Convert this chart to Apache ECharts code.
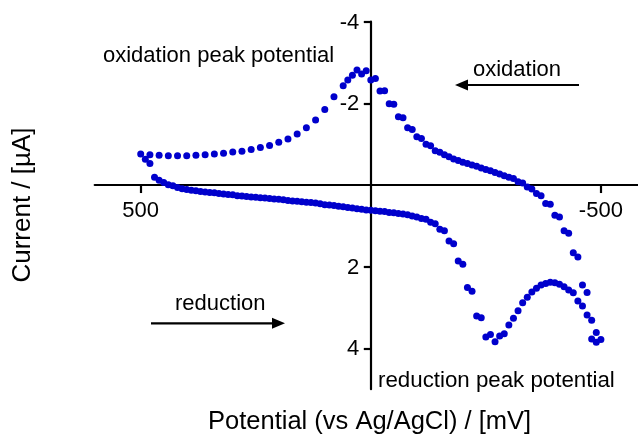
<!DOCTYPE html>
<html>
<head>
<meta charset="utf-8">
<script src="https://cdn.jsdelivr.net/npm/echarts@6/dist/echarts.min.js"></script>
<style>
html,body{margin:0;padding:0;background:#fff;}
#chart{width:638px;height:439px;}
</style>
</head>
<body>
<div id="chart"></div>
<script>
// Reduction sweep (500 mV -> -500 mV)
var reductionPotential = [490,480,470,460,450,440,430,420,410,400,390,380,370,360,350,340,330,320,310,300,290,280,270,260,250,240,230,220,210,200,190,180,170,160,150,140,130,120,110,100,90,80,70,60,50,40,30,20,10,0,-10,-20,-30,-40,-50,-60,-70,-80,-90,-100,-110,-120,-130,-140,-150,-160,-170,-180,-190,-200,-210,-220,-230,-240,-250,-260,-270,-280,-290,-300,-310,-320,-330,-340,-350,-360,-370,-380,-390,-400,-410,-420,-430,-440,-450,-460,-470,-480,-490,-500];
var reductionCurrent = [-0.63,-0.53,-0.19,-0.12,-0.06,-0.01,0.02,0.06,0.09,0.11,0.13,0.14,0.16,0.17,0.18,0.19,0.21,0.22,0.23,0.24,0.26,0.27,0.28,0.29,0.30,0.31,0.32,0.33,0.34,0.35,0.36,0.38,0.39,0.40,0.41,0.42,0.43,0.44,0.46,0.48,0.49,0.50,0.52,0.53,0.55,0.56,0.58,0.59,0.61,0.62,0.63,0.64,0.65,0.67,0.68,0.70,0.71,0.73,0.76,0.78,0.82,0.84,0.91,0.95,1.08,1.12,1.37,1.44,1.86,1.94,2.51,2.60,3.21,3.25,3.72,3.66,3.84,3.70,3.64,3.43,3.26,3.08,2.88,2.75,2.62,2.53,2.45,2.41,2.38,2.39,2.43,2.49,2.57,2.64,2.84,2.96,3.18,3.31,3.61,3.78];

// Oxidation sweep (-500 mV -> 500 mV)
var oxidationPotential = [-490,-480,-470,-460,-450,-440,-430,-420,-410,-400,-390,-380,-370,-360,-350,-340,-330,-320,-310,-300,-290,-280,-270,-260,-250,-240,-230,-220,-210,-200,-190,-180,-170,-160,-150,-140,-130,-120,-110,-100,-90,-80,-70,-60,-50,-40,-30,-20,-10,0,10,20,30,40,50,60,80,100,120,140,160,180,200,220,240,260,280,300,320,340,360,380,400,420,440,460,480,500];
var oxidationCurrent = [3.85,3.77,2.63,2.45,1.76,1.66,1.18,1.12,0.78,0.74,0.47,0.45,0.26,0.21,0.10,0.05,-0.05,-0.08,-0.16,-0.19,-0.23,-0.27,-0.31,-0.35,-0.38,-0.42,-0.46,-0.49,-0.53,-0.56,-0.60,-0.64,-0.69,-0.74,-0.80,-0.84,-0.96,-1.00,-1.14,-1.18,-1.36,-1.40,-1.65,-1.67,-1.98,-1.99,-2.31,-2.30,-2.61,-2.57,-2.80,-2.72,-2.82,-2.69,-2.57,-2.43,-2.16,-1.85,-1.59,-1.40,-1.25,-1.13,-1.05,-0.97,-0.92,-0.87,-0.83,-0.81,-0.78,-0.76,-0.74,-0.73,-0.72,-0.72,-0.72,-0.73,-0.74,-0.76];

var xTickValues = [500, -500];
var yTickValues = [-4, -2, 2, 4];

function pairs(xs, ys) {
  var out = [];
  for (var i = 0; i < xs.length; i++) out.push([xs[i], ys[i]]);
  return out;
}

var FONT = "'Liberation Sans', Arial, Helvetica, sans-serif";
var chart = echarts.init(document.getElementById('chart'), null, {renderer: 'canvas'});

function arrow(x1, y, tipX, dir) {
  var base = tipX - dir * 13;
  return [
    {type: 'line', shape: {x1: x1, y1: y, x2: base, y2: y}, style: {stroke: '#000', lineWidth: 2.2}, silent: true},
    {type: 'polygon', shape: {points: [[tipX, y], [base, y - 5.5], [base, y + 5.5]]}, style: {fill: '#000'}, silent: true}
  ];
}

var graphics = [
  {type: 'text', left: 103, top: 45, style: {text: 'oxidation peak potential', font: '22px ' + FONT, fill: '#000'}, silent: true},
  {type: 'text', left: 473, top: 59, style: {text: 'oxidation', font: '22px ' + FONT, fill: '#000'}, silent: true},
  {type: 'text', left: 175, top: 293, style: {text: 'reduction', font: '22px ' + FONT, fill: '#000'}, silent: true},
  {type: 'text', left: 378, top: 370, style: {text: 'reduction peak potential', font: '22.3px ' + FONT, fill: '#000'}, silent: true},
  {type: 'text', left: 208, top: 409, style: {text: 'Potential (vs Ag/AgCl) / [mV]', font: '25.5px ' + FONT, fill: '#000'}, silent: true},
  {type: 'text', x: 23, y: 205, rotation: Math.PI / 2, style: {text: 'Current / [\u00b5A]', font: '26px ' + FONT, fill: '#000', align: 'center', verticalAlign: 'middle'}, silent: true}
].concat(arrow(579, 85, 455, -1)).concat(arrow(151, 323.3, 285, 1));

var option = {
  animation: false,
  backgroundColor: '#fff',
  grid: {left: 94.7, right: 0.3, top: 21.7, bottom: 49.8, containLabel: false},
  xAxis: {
    type: 'value', inverse: true, min: -580, max: 600,
    axisLine: {onZero: true, lineStyle: {color: '#000', width: 2.2}},
    axisTick: {show: true, length: 8, lineStyle: {color: '#000', width: 2.2}, customValues: xTickValues},
    axisLabel: {show: false},
    splitLine: {show: false}
  },
  yAxis: {
    type: 'value', inverse: true, min: -4, max: 5,
    axisLine: {show: true, onZero: true, lineStyle: {color: '#000', width: 2.2}},
    axisTick: {show: true, length: 7, lineStyle: {color: '#000', width: 2.2}, customValues: yTickValues},
    axisLabel: {show: false},
    splitLine: {show: false}
  },
  series: [
    {type: 'scatter', name: 'reduction', data: pairs(reductionPotential, reductionCurrent), symbol: 'circle', symbolSize: 7, itemStyle: {color: '#0000cc', opacity: 1}, silent: true, z: 3},
    {type: 'scatter', name: 'oxidation', data: pairs(oxidationPotential, oxidationCurrent), symbol: 'circle', symbolSize: 7, itemStyle: {color: '#0000cc', opacity: 1}, silent: true, z: 3}
  ],
  graphic: graphics
};
chart.setOption(option);

// Tick labels placed next to the axis lines (which sit at zero), using the chart's own scales
var labelGraphics = [];
xTickValues.forEach(function (v) {
  var p = chart.convertToPixel({gridIndex: 0}, [v, 0]);
  labelGraphics.push({type: 'text', x: p[0], y: p[1] + 26, silent: true,
    style: {text: String(v), font: '22px ' + FONT, fill: '#000', align: 'center', verticalAlign: 'middle'}});
});
yTickValues.forEach(function (v) {
  var p = chart.convertToPixel({gridIndex: 0}, [0, v]);
  labelGraphics.push({type: 'text', x: p[0] - 11.5, y: p[1] + 1, silent: true,
    style: {text: String(v), font: '22px ' + FONT, fill: '#000', align: 'right', verticalAlign: 'middle'}});
});
chart.setOption({graphic: graphics.concat(labelGraphics)});
</script>
</body>
</html>
